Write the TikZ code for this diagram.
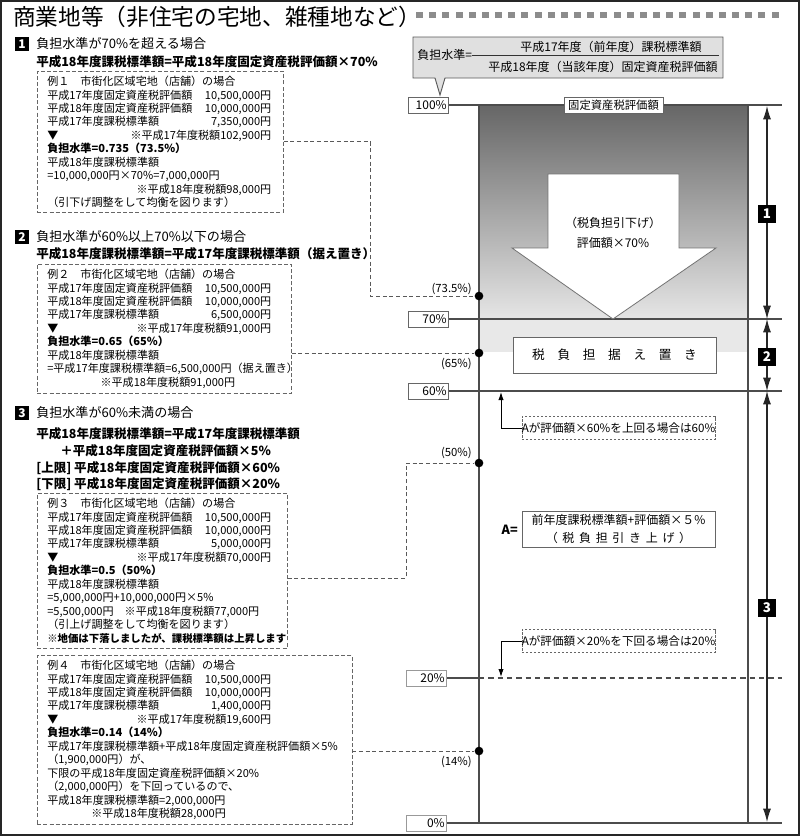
\documentclass[tikz,border=0pt]{standalone}
\usepackage{fontspec}
\setmainfont{Noto Sans CJK JP}
\usepackage{tikz}
\usetikzlibrary{arrows.meta,positioning,calc}
\newcommand{\exline}[2]{\makebox[168pt][l]{#1\hfill#2}}

\begin{document}
\begin{tikzpicture}[
    x=0.75pt,y=-0.75pt,
    >=Latex,
    every node/.style={inner sep=0pt},
    caption/.style={anchor=west,font=\fontsize{9.8}{12}\selectfont},
    rulebold/.style={anchor=west,font=\bfseries\fontsize{9.4}{12}\selectfont},
    badge/.style={fill=black,text=white,font=\bfseries\fontsize{9}{10}\selectfont,
        minimum width=10pt,minimum height=10pt},
    bigbadge/.style={fill=black,text=white,font=\bfseries\fontsize{10}{11}\selectfont,
        minimum width=13.5pt,minimum height=13pt},
    example/.style={draw=black!60,dashed,dash pattern=on 3pt off 1.6pt,anchor=north west,
        align=left,inner xsep=7.5pt,inner ysep=3.6pt,font=\fontsize{8.3}{10.1}\selectfont},
    level/.style={draw=black!60,fill=white,anchor=east,minimum height=12pt,
        text width=27pt,align=right,inner xsep=1.5pt,font=\fontsize{9}{10}\selectfont},
    levelline/.style={draw=black!70,line width=0.8pt},
    link/.style={draw=black!65,dashed,dash pattern=on 3pt off 2pt,line width=0.7pt},
    dot/.style={circle,fill=black,minimum size=6.5pt},
    dotlabel/.style={anchor=east,font=\fontsize{8.5}{10}\selectfont},
    panel/.style={draw=black!60,fill=white,align=center,font=\fontsize{9}{13}\selectfont},
    note/.style={draw=black!60,dashed,dash pattern=on 2pt off 1pt,minimum width=144.5pt,
        minimum height=17pt,font=\fontsize{8.7}{10}\selectfont},
    pointer/.style={draw=black,line width=0.7pt,-{Latex[length=6pt,width=4pt]}},
    dim/.style={draw=black!85,line width=0.8pt,
        {Latex[length=10pt,width=6pt]}-{Latex[length=10pt,width=6pt]}}]
\useasboundingbox (0,0) rectangle (800,836);
\draw[line width=1.2pt,black!85] (1,1) rectangle (799,835);

\node[anchor=west,font=\fontsize{17}{19}\selectfont] (title) at (13,17)
    {商業地等（非住宅の宅地、雑種地など）};
\foreach \i in {0,...,27}
    \fill[black!45] ({416+13.17*\i},12) rectangle ++(7,6);

\node[badge] (b1) at (22,44) {1};
\node[caption] (h1) at (36,44) {負担水準が70\%を超える場合};
\node[rulebold] (r1) at (36,62) {平成18年度課税標準額=平成18年度固定資産税評価額×70\%};
\node[example,text width=169.5pt] (ex1) at (37,71) {例１　市街化区域宅地（店舗）の場合\\
    \exline{平成17年度固定資産税評価額}{10,500,000円}\\
    \exline{平成18年度固定資産税評価額}{10,000,000円}\\
    \exline{平成17年度課税標準額}{7,350,000円}\\
    \exline{▼}{※平成17年度税額102,900円}\\
    \textbf{負担水準=0.735（73.5\%）}\\
    平成18年度課税標準額\\
    =10,000,000円×70\%=7,000,000円\\
    \exline{}{※平成18年度税額98,000円}\\
    （引下げ調整をして均衡を図ります）};

\node[badge] (b2) at (22,237) {2};
\node[caption] (h2) at (36,237) {負担水準が60\%以上70\%以下の場合};
\node[rulebold] (r2) at (36,254) {平成18年度課税標準額=平成17年度課税標準額（据え置き）};
\node[example,text width=175.5pt] (ex2) at (37,264) {例２　市街化区域宅地（店舗）の場合\\
    \exline{平成17年度固定資産税評価額}{10,500,000円}\\
    \exline{平成18年度固定資産税評価額}{10,000,000円}\\
    \exline{平成17年度課税標準額}{6,500,000円}\\
    \exline{▼}{※平成17年度税額91,000円}\\
    \textbf{負担水準=0.65（65\%）}\\
    平成18年度課税標準額\\
    =平成17年度課税標準額=6,500,000円（据え置き）\\
    \hspace*{40pt}※平成18年度税額91,000円};

\node[badge] (b3) at (22,413) {3};
\node[caption] (h3) at (36,413) {負担水準が60\%未満の場合};
\node[rulebold] (r3a) at (36,434) {平成18年度課税標準額=平成17年度課税標準額};
\node[rulebold] (r3b) at (60,451) {＋平成18年度固定資産税評価額×5\%};
\node[rulebold] (r3c) at (36,468) {[上限] 平成18年度固定資産税評価額×60\%};
\node[rulebold] (r3d) at (36,484) {[下限] 平成18年度固定資産税評価額×20\%};
\node[example,text width=172.5pt] (ex3) at (37,493) {例３　市街化区域宅地（店舗）の場合\\
    \exline{平成17年度固定資産税評価額}{10,500,000円}\\
    \exline{平成18年度固定資産税評価額}{10,000,000円}\\
    \exline{平成17年度課税標準額}{5,000,000円}\\
    \exline{▼}{※平成17年度税額70,000円}\\
    \textbf{負担水準=0.5（50\%）}\\
    平成18年度課税標準額\\
    =5,000,000円+10,000,000円×5\%\\
    =5,500,000円　※平成18年度税額77,000円\\
    （引上げ調整をして均衡を図ります）\\
    {\fontsize{7.8}{10.1}\selectfont\textbf{※地価は下落しましたが、課税標準額は上昇します}}};

\node[example,text width=221pt] (ex4) at (37,655) {例４　市街化区域宅地（店舗）の場合\\
    \exline{平成17年度固定資産税評価額}{10,500,000円}\\
    \exline{平成18年度固定資産税評価額}{10,000,000円}\\
    \exline{平成17年度課税標準額}{1,400,000円}\\
    \exline{▼}{※平成17年度税額19,600円}\\
    \textbf{負担水準=0.14（14\%）}\\
    平成17年度課税標準額+平成18年度固定資産税評価額×5\%\\
    （1,900,000円）が、\\
    下限の平成18年度固定資産税評価額×20\%\\
    （2,000,000円）を下回っているので、\\
    平成18年度課税標準額=2,000,000円\\
    \hspace*{33pt}※平成18年度税額28,000円};

\draw[draw=black!65,fill=black!12,line width=0.7pt] (413,37) -- (723,37) -- (723,78)
    -- (445,78) -- (440,95) -- (435,78) -- (413,78) -- cycle;
\node[anchor=west,font=\fontsize{9}{10}\selectfont] (flab) at (417,55) {負担水準=};
\node[font=\fontsize{9}{10}\selectfont] (fnum) at (611,47) {平成17年度（前年度）課税標準額};
\node[font=\fontsize{9}{10}\selectfont] (fden) at (603,67) {平成18年度（当該年度）固定資産税評価額};
\draw[black!80,line width=0.6pt] (flab.east) -- (719,55);

\shade[top color=black!60,bottom color=black!10] (479,105) rectangle (748,319);
\fill[black!9] (479,319) rectangle (748,352);

\node[level] (p100) at (449,105) {100\%};
\node[level] (p70) at (449,319) {70\%};
\node[level] (p60) at (449,391) {60\%};
\node[level,draw=black!40] (p20) at (447,678) {20\%};
\node[level,draw=black!40] (p0) at (447,823) {0\%};
\coordinate (e100) at (782,105);
\coordinate (e70) at (782,319);
\coordinate (e60) at (782,391);
\coordinate (a20) at (479,678);
\coordinate (e20) at (782,678);
\coordinate (e0) at (782,823);
\draw[levelline] (p100) -- (e100);
\draw[levelline] (p70) -- (e70);
\draw[levelline] (p60) -- (e60);
\draw[levelline] (p20) -- (a20);
\draw[levelline,dashed,dash pattern=on 4pt off 3pt] (a20) -- (e20);
\draw[levelline] (p0) -- (e0);
\draw[levelline] (479,105) -- (479,823);
\draw[levelline] (748,105) -- (748,823);

\node[draw=black!60,fill=white,inner xsep=3pt,inner ysep=2pt,font=\fontsize{8.5}{10}\selectfont]
    (hyoka) at (613.5,105) {固定資産税評価額};

\draw[draw=black!55,fill=white,line width=0.6pt] (548,174) -- (679,174) -- (679,248)
    -- (716,248) -- (613,319) -- (512,248) -- (548,248) -- cycle;
\node[align=center,font=\fontsize{9}{15}\selectfont] (down) at (613,233)
    {（税負担引下げ）\\評価額×70\%};

\node[panel,minimum width=152pt,minimum height=27pt,font=\fontsize{9.5}{11}\selectfont] (keep) at (614.5,355)
    {税\hspace{9.5pt}負\hspace{9.5pt}担\hspace{9.5pt}据\hspace{9.5pt}え\hspace{9.5pt}置\hspace{9.5pt}き};

\node[note] (up60) at (618.5,428) {Aが評価額×60\%を上回る場合は60\%};
\coordinate (t60) at (501,392);
\draw[pointer] (up60.west) -| (t60);

\node[anchor=east,font=\bfseries\fontsize{9.5}{11}\selectfont] (aeq) at (518,530) {A=};
\node[panel,minimum width=144.5pt,minimum height=27pt] (abox) at (618.5,529)
    {前年度課税標準額+評価額×５\%\\（\hspace{3.5pt}税\hspace{3.5pt}負\hspace{3.5pt}担\hspace{3.5pt}引\hspace{3.5pt}き\hspace{3.5pt}上\hspace{3.5pt}げ\hspace{3.5pt}）};

\node[note] (dn20) at (618.5,641) {Aが評価額×20\%を下回る場合は20\%};
\coordinate (t20) at (501,677);
\draw[pointer] (dn20.west) -| (t20);

\node[dot] (d735) at (479,296) {};
\node[dot] (d65) at (479,353) {};
\node[dot] (d50) at (479,463) {};
\node[dot] (d14) at (479,751) {};
\node[dotlabel] at (472,289) {(73.5\%)};
\node[dotlabel] at (472,364) {(65\%)};
\node[dotlabel] at (472,453) {(50\%)};
\node[dotlabel] at (472,762) {(14\%)};

\coordinate (j3) at (406,578);
\draw[link] (ex1.east) -- ++(87,0) |- (d735);
\draw[link] (ex2.east |- d65) -- (d65);
\draw[link] (ex3.east |- j3) -- (j3) |- (d50);
\draw[link] (ex4.east |- d14) -- (d14);

\draw[dim] (767,106) -- (767,319);
\draw[dim] (767,319) -- (767,391);
\draw[dim] (767,391) -- (767,822);
\node[bigbadge] (n1) at (767,214) {1};
\node[bigbadge] (n2) at (767,357) {2};
\node[bigbadge] (n3) at (767,608) {3};
\end{tikzpicture}
\end{document}
